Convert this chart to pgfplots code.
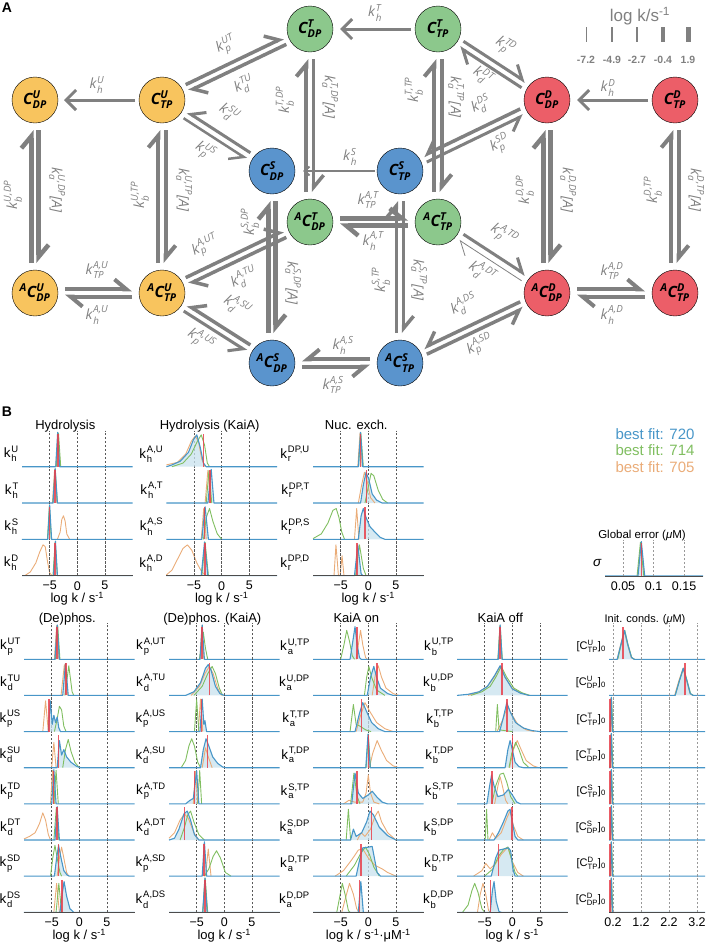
\documentclass[border=0pt]{standalone}
\usepackage{pgfplots}
\pgfplotsset{compat=1.18}
\usepackage{fontspec}
\usepackage{amsmath}
\setmainfont{Liberation Sans}
\newfontfamily\osans{Open Sans}
\usetikzlibrary{arrows.meta,calc}
\definecolor{ycol}{RGB}{248,196,94}
\definecolor{gcol}{RGB}{140,200,140}
\definecolor{bcol}{RGB}{90,148,205}
\definecolor{rcol}{RGB}{236,94,104}
\definecolor{agray}{RGB}{128,128,128}
\definecolor{cb}{RGB}{72,150,200}
\definecolor{cg}{RGB}{128,190,96}
\definecolor{co}{RGB}{234,172,120}
\definecolor{cr}{RGB}{232,64,76}
\definecolor{cbf}{RGB}{200,226,238}
\tikzset{arr/.style={draw=agray, line cap=butt},
 alab/.style={font=\osans\itshape\fontsize{14}{14}\selectfont, text=agray, inner sep=0pt},
 nlab/.style={font=\osans\bfseries\itshape\fontsize{15.5}{15.5}\selectfont, inner sep=0pt, text=black},
 rowlab/.style={anchor=east, inner sep=0pt, xshift=-3pt, font=\fontsize{13.5}{14}\selectfont}}
\pgfplotsset{
 panelA/.style={at={(0pt,0pt)}, anchor=north west, scale only axis, width=709pt, height=395pt,
  xmin=0, xmax=709, ymin=0, ymax=395, y dir=reverse, hide axis, clip=false},
 rowax/.style={scale only axis, width=110.6pt, height=36.2pt, anchor=south west,
  xmin=-10, xmax=10, ymin=0, ymax=1, axis y line=none, axis x line=bottom,
  x axis line style={draw=none,-}, xtick={-5,0,5}, xticklabels={}, ytick=\empty,
  xmajorgrids=true, major grid style={black!65, line width=0.6pt, dash pattern=on 2.2pt off 1.8pt},
  tick style={draw=none}, clip=false, every axis title shift=0pt,
  title style={at={(0.5,1)}, anchor=base, yshift=1pt, xshift=-12pt, inner sep=0pt, font=\fontsize{13}{14}\selectfont},
  ticklabel style={font=\fontsize{12.5}{13}\selectfont},
  xlabel style={font=\fontsize{13}{14}\selectfont, inner sep=0pt, yshift=1.5pt}},
 lastrow/.style={x axis line style={draw=black!70, line width=0.9pt,-}, xticklabels={−5,0,5},
  xlabel={log k / s$^{\text{-1}}$}, axis on top},
 initax/.style={width=96pt, xmin=0.057, xmax=3.486, xtick={0.2,1.2,2.2,3.2},
  major grid style={black!40, line width=0.6pt, dash pattern=on 2.2pt off 1.8pt},
  title style={xshift=0pt, font=\fontsize{11}{12}\selectfont}},
 initlast/.style={lastrow, xticklabels={0.2,1.2,2.2,3.2}, xlabel={}},
 oc/.style={color=co, line width=0.9pt, line join=round},
 gc/.style={color=cg, line width=0.9pt, line join=round},
 bc/.style={color=cb, line width=1.1pt, line join=round},
 rc/.style={color=cr, line width=1.5pt, opacity=0.85}
}
% #1 opts, #2 left, #3 baseline, #4 label, #5 orange, #6 green, #7 blue, #8 red x
\newcommand{\R}[8][]{%
\begin{axis}[rowax,#1,at={(#2pt,-#3pt)}]
\addplot[draw=none,fill=cbf,fill opacity=0.75] coordinates {#7};
\addplot[oc] coordinates {#5};
\addplot[gc] coordinates {#6};
\addplot[bc] coordinates {#7};
\addplot[rc] coordinates {(#8,0)(#8,0.9)};
\node[rowlab] at (rel axis cs:0,0.35) {#4};
\end{axis}}
\newcommand{\pairL}[5]{%
\draw[arr, line width=#3pt, shorten <=#5pt, shorten >=#5pt, -{Straight Barb[left, length=12pt, width=20pt]}] ($(#1)!3.6pt!90:(#2)$) -- ($(#2)!3.6pt!-90:(#1)$);
\draw[arr, line width=#4pt, shorten <=#5pt, shorten >=#5pt, -{Straight Barb[left, length=12pt, width=20pt]}] ($(#2)!3.6pt!90:(#1)$) -- ($(#1)!3.6pt!-90:(#2)$);}
\newcommand{\pairR}[5]{%
\draw[arr, line width=#3pt, shorten <=#5pt, shorten >=#5pt, -{Straight Barb[right, length=12pt, width=20pt]}] ($(#1)!3.6pt!-90:(#2)$) -- ($(#2)!3.6pt!90:(#1)$);
\draw[arr, line width=#4pt, shorten <=#5pt, shorten >=#5pt, -{Straight Barb[right, length=12pt, width=20pt]}] ($(#2)!3.6pt!-90:(#1)$) -- ($(#1)!3.6pt!90:(#2)$);}
\newcommand{\sk}[3]{#1\kern0.8pt$^{\text{#2}}_{\text{#3}}$}
\begin{document}
\begin{tikzpicture}
\path[use as bounding box] (0,0) rectangle (709pt,-942pt);
\node[font=\bfseries\fontsize{14}{14}\selectfont] at (7pt,-8pt) {A};
\node[font=\bfseries\fontsize{14}{14}\selectfont] at (7pt,-412pt) {B};
% ---------------- Panel A: arrows and circles
\begin{axis}[panelA]
\coordinate (UDP) at (axis cs:35,100);
\coordinate (UTP) at (axis cs:162,100);
\coordinate (TDP) at (axis cs:310,29);
\coordinate (TTP) at (axis cs:438,29);
\coordinate (SDP) at (axis cs:272,171);
\coordinate (STP) at (axis cs:400,171);
\coordinate (DDP) at (axis cs:547,100);
\coordinate (DTP) at (axis cs:675,100);
\coordinate (aUDP) at (axis cs:35,293);
\coordinate (aUTP) at (axis cs:162,293);
\coordinate (aTDP) at (axis cs:310,222);
\coordinate (aTTP) at (axis cs:438,222);
\coordinate (aSDP) at (axis cs:272,363);
\coordinate (aSTP) at (axis cs:400,363);
\coordinate (aDDP) at (axis cs:547,293);
\coordinate (aDTP) at (axis cs:675,293);
\draw[arr, line width=2pt, -{Straight Barb[length=5pt,width=9pt]}] (axis cs:375,171) -- (axis cs:303,171);
\draw[arr, line width=3pt, -{Straight Barb[length=10pt,width=20pt]}] (axis cs:135,100) -- (axis cs:64,100);
\draw[arr, line width=3pt, -{Straight Barb[length=10pt,width=20pt]}] (axis cs:411,29) -- (axis cs:340,29);
\draw[arr, line width=3pt, -{Straight Barb[length=10pt,width=20pt]}] (axis cs:648,100) -- (axis cs:577,100);
\pairL{aUDP}{UDP}{4.5}{4.5}{30}
\pairL{aUTP}{UTP}{4}{4}{30}
\pairL{aTDP}{TDP}{4}{3.5}{30}
\pairL{aSDP}{SDP}{4.5}{4.5}{30}
\pairL{aTTP}{TTP}{4}{4}{30}
\pairL{aSTP}{STP}{3.5}{3.5}{30}
\pairL{aDDP}{DDP}{4.5}{4.5}{30}
\pairL{aDTP}{DTP}{4}{4}{30}
\pairL{aUDP}{aUTP}{4}{4}{30}
\pairL{aTDP}{aTTP}{4.5}{4.5}{30}
\pairR{aSDP}{aSTP}{4}{4}{30}
\pairL{aDDP}{aDTP}{4}{4}{30}
\pairL{UTP}{TDP}{3.5}{3.5}{28}
\pairR{UTP}{SDP}{2.5}{3}{28}
\pairL{TTP}{DDP}{3}{3}{28}
\pairR{STP}{DDP}{3}{3.5}{28}
\pairL{aUTP}{aTDP}{3.5}{3.5}{28}
\pairR{aUTP}{aSDP}{3}{3.5}{28}
\pairL{aTTP}{aDDP}{3}{0.8}{28}
\pairR{aSTP}{aDDP}{3.5}{3.5}{28}
\addplot[only marks, mark=*, mark size=23pt, mark options={draw=none,fill=ycol}] coordinates {(35,100)(162,100)(35,293)(162,293)};
\addplot[only marks, mark=*, mark size=23pt, mark options={draw=none,fill=gcol}] coordinates {(310,29)(438,29)(310,222)(438,222)};
\addplot[only marks, mark=*, mark size=23pt, mark options={draw=none,fill=bcol}] coordinates {(272,171)(400,171)(272,363)(400,363)};
\addplot[only marks, mark=*, mark size=23pt, mark options={draw=none,fill=rcol}] coordinates {(547,100)(675,100)(547,293)(675,293)};
\end{axis}
% ---------------- Panel A: texts (separate overlay so they sit on top of the circles)
\begin{axis}[panelA]
\node[nlab] at (axis cs:35,100) {C$^{\text{U}}_{\text{DP}}$};
\node[nlab] at (axis cs:162,100) {C$^{\text{U}}_{\text{TP}}$};
\node[nlab] at (axis cs:310,29) {C$^{\text{T}}_{\text{DP}}$};
\node[nlab] at (axis cs:438,29) {C$^{\text{T}}_{\text{TP}}$};
\node[nlab] at (axis cs:272,171) {C$^{\text{S}}_{\text{DP}}$};
\node[nlab] at (axis cs:400,171) {C$^{\text{S}}_{\text{TP}}$};
\node[nlab] at (axis cs:547,100) {C$^{\text{D}}_{\text{DP}}$};
\node[nlab] at (axis cs:675,100) {C$^{\text{D}}_{\text{TP}}$};
\node[nlab] at (axis cs:35,293) {$^{\text{A}}$C$^{\text{U}}_{\text{DP}}$};
\node[nlab] at (axis cs:162,293) {$^{\text{A}}$C$^{\text{U}}_{\text{TP}}$};
\node[nlab] at (axis cs:310,222) {$^{\text{A}}$C$^{\text{T}}_{\text{DP}}$};
\node[nlab] at (axis cs:438,222) {$^{\text{A}}$C$^{\text{T}}_{\text{TP}}$};
\node[nlab] at (axis cs:272,363) {$^{\text{A}}$C$^{\text{S}}_{\text{DP}}$};
\node[nlab] at (axis cs:400,363) {$^{\text{A}}$C$^{\text{S}}_{\text{TP}}$};
\node[nlab] at (axis cs:547,293) {$^{\text{A}}$C$^{\text{D}}_{\text{DP}}$};
\node[nlab] at (axis cs:675,293) {$^{\text{A}}$C$^{\text{D}}_{\text{TP}}$};
\node[alab] at (axis cs:97,85) {\sk{k}{U}{h}};
\node[alab] at (axis cs:375,13) {\sk{k}{T}{h}};
\node[alab] at (axis cs:608,88) {\sk{k}{D}{h}};
\node[alab] at (axis cs:350,157) {\sk{k}{S}{h}};
\node[alab,rotate=25.5] at (axis cs:226,45) {\sk{k}{UT}{p}};
\node[alab,rotate=25.5] at (axis cs:244,85) {\sk{k}{TU}{d}};
\node[alab,rotate=-33] at (axis cs:229,113) {\sk{k}{SU}{d}};
\node[alab,rotate=-33] at (axis cs:205,151) {\sk{k}{US}{p}};
\node[alab,rotate=-33] at (axis cs:505,46) {\sk{k}{TD}{p}};
\node[alab,rotate=-33] at (axis cs:483,76) {\sk{k}{DT}{d}};
\node[alab,rotate=26] at (axis cs:481,105) {\sk{k}{DS}{d}};
\node[alab,rotate=26] at (axis cs:500,144) {\sk{k}{SD}{p}};
\node[alab,rotate=90] at (axis cs:13,195) {\sk{k}{U,DP}{b}};
\node[alab,rotate=-90] at (axis cs:57,190) {\sk{k}{U,DP}{a}[A]};
\node[alab,rotate=90] at (axis cs:140,195) {\sk{k}{U,TP}{b}};
\node[alab,rotate=-90] at (axis cs:184,190) {\sk{k}{U,TP}{a}[A]};
\node[alab,rotate=90] at (axis cs:285,100) {\sk{k}{T,DP}{b}};
\node[alab,rotate=-90] at (axis cs:330,97) {\sk{k}{T,DP}{a}[A]};
\node[alab,rotate=90] at (axis cs:414,90) {\sk{k}{T,TP}{b}};
\node[alab,rotate=-90] at (axis cs:456,97) {\sk{k}{T,TP}{a}[A]};
\node[alab,rotate=90] at (axis cs:250,222) {\sk{k}{S,DP}{b}};
\node[alab,rotate=-90] at (axis cs:293,283) {\sk{k}{S,DP}{a}[A]};
\node[alab,rotate=90] at (axis cs:381,280) {\sk{k}{S,TP}{b}};
\node[alab,rotate=-90] at (axis cs:419,280) {\sk{k}{S,TP}{a}[A]};
\node[alab,rotate=90] at (axis cs:525,190) {\sk{k}{D,DP}{b}};
\node[alab,rotate=-90] at (axis cs:568,190) {\sk{k}{D,DP}{a}[A]};
\node[alab,rotate=90] at (axis cs:653,190) {\sk{k}{D,TP}{b}};
\node[alab,rotate=-90] at (axis cs:696,190) {\sk{k}{D,TP}{a}[A]};
\node[alab] at (axis cs:97,270) {\sk{k}{A,U}{TP}};
\node[alab] at (axis cs:97,315) {\sk{k}{A,U}{h}};
\node[alab] at (axis cs:368,200) {\sk{k}{A,T}{TP}};
\node[alab] at (axis cs:373,241) {\sk{k}{A,T}{h}};
\node[alab] at (axis cs:343,345) {\sk{k}{A,S}{h}};
\node[alab] at (axis cs:333,385) {\sk{k}{A,S}{TP}};
\node[alab] at (axis cs:612,271) {\sk{k}{A,D}{TP}};
\node[alab] at (axis cs:612,315) {\sk{k}{A,D}{h}};
\node[alab,rotate=25.5] at (axis cs:205,246) {\sk{k}{A,UT}{p}};
\node[alab,rotate=25.5] at (axis cs:244,278) {\sk{k}{A,TU}{d}};
\node[alab,rotate=-33] at (axis cs:237,306) {\sk{k}{A,SU}{d}};
\node[alab,rotate=-33] at (axis cs:201,340) {\sk{k}{A,US}{p}};
\node[alab,rotate=-33] at (axis cs:504,235) {\sk{k}{A,TD}{p}};
\node[alab,rotate=-33] at (axis cs:482,272) {\sk{k}{A,DT}{d}};
\node[alab,rotate=26] at (axis cs:464,305) {\sk{k}{A,DS}{d}};
\node[alab,rotate=26] at (axis cs:480,345) {\sk{k}{A,SD}{p}};
\node[font=\fontsize{17}{17}\selectfont, text=agray] at (axis cs:640,16) {log k/s$^{\text{-1}}$};
\draw[agray, line width=0.8pt] (axis cs:586,27) -- (axis cs:586,42);
\draw[agray, line width=1.8pt] (axis cs:612,27) -- (axis cs:612,42);
\draw[agray, line width=2.8pt] (axis cs:637,27) -- (axis cs:637,42);
\draw[agray, line width=3.8pt] (axis cs:663,27) -- (axis cs:663,42);
\draw[agray, line width=5pt] (axis cs:688,27) -- (axis cs:688,42);
\node[font=\bfseries\fontsize{10.5}{11}\selectfont, text=agray] at (axis cs:586,60) {-7.2};
\node[font=\bfseries\fontsize{10.5}{11}\selectfont, text=agray] at (axis cs:612,60) {-4.9};
\node[font=\bfseries\fontsize{10.5}{11}\selectfont, text=agray] at (axis cs:637,60) {-2.7};
\node[font=\bfseries\fontsize{10.5}{11}\selectfont, text=agray] at (axis cs:663,60) {-0.4};
\node[font=\bfseries\fontsize{10.5}{11}\selectfont, text=agray] at (axis cs:688,60) {1.9};
\end{axis}
% ---------------- Panel B: Hydrolysis
\R[title={Hydrolysis}]{22}{466.7}{\sk{k}{U}{h}}
{(-3.9,0)(-3.5,0.93)(-3.1,0)}
{(-3.8,0)(-3.4,0.93)(-3.0,0)}
{(-10,0)(-3.9,0)(-3.55,0.95)(-3.2,0)(10,0)}{-3.5}
\R{22}{503.0}{\sk{k}{T}{h}}
{(-4.5,0)(-4.1,0.93)(-3.7,0)}
{(-4.4,0)(-4.0,0.93)(-3.6,0)}
{(-10,0)(-4.4,0)(-4.0,0.95)(-3.6,0)(10,0)}{-4.0}
\R{22}{539.3}{\sk{k}{S}{h}}
{(-3.6,0)(-3.1,0.2)(-2.8,0.55)(-2.5,0.65)(-2.2,0.5)(-1.9,0.15)(-1.4,0)}
{(-5.4,0)(-5.05,0.93)(-4.7,0)}
{(-10,0)(-5.35,0)(-5.0,0.95)(-4.65,0)(10,0)}{-5.0}
\R[lastrow]{22}{575.6}{\sk{k}{D}{h}}
{(-9.5,0)(-8.5,0.1)(-7.5,0.35)(-6.8,0.65)(-6.2,0.85)(-5.8,0.8)(-5.4,0.4)(-5.0,0.08)(-4.6,0)}
{(-4.4,0)(-4.0,0.93)(-3.6,0)}
{(-10,0)(-4.3,0)(-3.95,0.95)(-3.6,0)(10,0)}{-4.0}
% Hydrolysis (KaiA)
\R[title={Hydrolysis (KaiA)}]{166.4}{466.7}{\sk{k}{A,U}{h}}
{(-10,0.05)(-8,0.12)(-6.5,0.35)(-5.5,0.7)(-4.8,0.85)(-4.2,0.7)(-3.6,0.2)(-3.0,0)}
{(-9,0)(-7,0.1)(-5.5,0.35)(-4.4,0.7)(-3.7,0.88)(-3.1,0.6)(-2.6,0.1)(-2.2,0)}
{(-10,0)(-9,0.05)(-7.5,0.15)(-6,0.4)(-5.1,0.75)(-4.5,0.88)(-3.9,0.55)(-3.3,0.1)(-2.8,0)(10,0)}{-3.3}
\R{166.4}{503.0}{\sk{k}{A,T}{h}}
{(-3.0,0)(-2.5,0.9)(-2.0,0)}
{(-2.8,0)(-2.3,0.9)(-1.8,0)}
{(-10,0)(-2.5,0)(-1.9,0.93)(-1.4,0)(10,0)}{-2.1}
\R{166.4}{539.3}{\sk{k}{A,S}{h}}
{(-3.7,0)(-3.25,0.85)(-2.8,0)}
{(-3.3,0)(-2.8,0.6)(-2.2,0.85)(-1.6,0.5)(-0.8,0.15)(0,0)}
{(-10,0)(-3.6,0)(-3.0,0.9)(-2.4,0)(10,0)}{-3.1}
\R[lastrow]{166.4}{575.6}{\sk{k}{A,D}{h}}
{(-10,0.02)(-9,0.15)(-8,0.45)(-7,0.75)(-6.2,0.85)(-5.4,0.7)(-4.5,0.35)(-3.6,0.1)(-2.8,0)}
{(-3.6,0)(-3.0,0.92)(-2.4,0)}
{(-10,0)(-3.7,0)(-3.1,0.93)(-2.5,0)(10,0)}{-3.0}
% Nuc. exch.
\R[title={Nuc. exch.}]{313}{466.7}{\sk{k}{DP,U}{r}}
{(-1.9,0)(-1.5,0.93)(-1.1,0)}
{(-1.8,0)(-1.35,0.93)(-0.9,0)}
{(-10,0)(-1.8,0)(-1.4,0.95)(-1.0,0)(10,0)}{-1.4}
\R{313}{503.0}{\sk{k}{DP,T}{r}}
{(-1.8,0)(-1.2,0.5)(-0.7,0.85)(-0.2,0.6)(0.4,0.15)(1.2,0)}
{(-0.6,0)(0,0.45)(0.5,0.82)(1.0,0.75)(1.8,0.35)(2.6,0.1)(3.5,0)}
{(-10,0)(-1.4,0)(-0.9,0.5)(-0.4,0.85)(0.1,0.65)(0.7,0.25)(1.5,0.08)(2.5,0)(10,0)}{-0.3}
\R{313}{539.3}{\sk{k}{DP,S}{r}}
{(-2.5,0)(-2.1,0.85)(-1.7,0)}
{(-10,0.02)(-8.5,0.15)(-7.3,0.45)(-6.4,0.8)(-5.8,0.85)(-5.3,0.6)(-4.8,0.2)(-4.3,0)}
{(-10,0)(-1.8,0)(-1.3,0.65)(-0.9,0.85)(-0.4,0.6)(0.3,0.35)(1.2,0.2)(2.2,0.05)(3,0)(10,0)}{-0.6}
\R[lastrow]{313}{575.6}{\sk{k}{DP,D}{r}}
{(-6.2,0)(-5.85,0.85)(-5.4,0)(-5.1,0)(-4.75,0.55)(-4.4,0)}
{(-2.3,0)(-1.6,0.85)(-0.9,0.2)(-0.4,0)}
{(-10,0)(-2.5,0)(-1.9,0.85)(-1.3,0.05)(-1.0,0)(10,0)}{-2.0}
% Global error
\R[lastrow, width=98pt, xmin=0.0205, xmax=0.181, xtick={0.05,0.1,0.15}, xticklabels={0.05,0.1,0.15}, xlabel={},
  major grid style={black!40, line width=0.6pt, dash pattern=on 2.2pt off 1.8pt},
  title={Global error (\textit{μ}M)}, title style={xshift=0pt, font=\fontsize{11.5}{12}\selectfont}]{605}{576}{\textit{σ}}
{(0.074,0)(0.0795,0.93)(0.085,0)}
{(0.073,0)(0.0785,0.93)(0.084,0)}
{(0.0205,0)(0.0745,0)(0.080,0.95)(0.0855,0)(0.181,0)}{0.0805}
\node[anchor=east, font=\fontsize{15}{15}\selectfont, text=cb] at (698pt,-434pt) {best fit: 720};
\node[anchor=east, font=\fontsize{15}{15}\selectfont, text=cg] at (698pt,-450pt) {best fit: 714};
\node[anchor=east, font=\fontsize{15}{15}\selectfont, text=co] at (698pt,-467pt) {best fit: 705};
% ---------------- (De)phos.
\R[title={(De)phos.}]{24}{659.3}{\sk{k}{UT}{p}}
{(-4.5,0)(-4.1,0.93)(-3.7,0)}
{(-4.3,0)(-3.9,0.93)(-3.5,0)}
{(-10,0)(-4.4,0)(-4.0,0.95)(-3.6,0)(10,0)}{-4.0}
\R{24}{695.4}{\sk{k}{TU}{d}}
{(-3.3,0)(-2.7,0.85)(-2.1,0)}
{(-2.6,0)(-1.9,0.82)(-1.3,0.1)(-1.0,0)}
{(-10,0)(-3.0,0)(-2.5,0.88)(-2.0,0)(10,0)}{-2.4}
\R{24}{731.6}{\sk{k}{US}{p}}
{(-6.6,0)(-6.1,0.85)(-5.6,0)}
{(-4.5,0)(-4.0,0.35)(-3.6,0.7)(-3.2,0.6)(-2.8,0.15)(-2.4,0)}
{(-10,0)(-5.6,0)(-5.25,0.85)(-4.9,0.2)(-4.6,0.45)(-4.3,0.25)(-4.0,0.4)(-3.7,0.1)(-3.4,0)(10,0)}{-5.5}
\R{24}{767.7}{\sk{k}{SU}{d}}
{(-5.0,0)(-4.6,0.7)(-4.2,0)}
{(-3.0,0)(-2.5,0.5)(-2.0,0.78)(-1.5,0.45)(-0.8,0.15)(0,0)}
{(-10,0)(-4.0,0)(-3.6,0.75)(-3.2,0.35)(-2.8,0.5)(-2.3,0.3)(-1.5,0.15)(-0.5,0.04)(0.2,0)(10,0)}{-3.8}
\R{24}{803.9}{\sk{k}{TD}{p}}
{(-5.2,0)(-4.85,0.93)(-4.5,0)}
{(-4.6,0)(-4.2,0.93)(-3.8,0)}
{(-10,0)(-5.0,0)(-4.6,0.95)(-4.2,0)(10,0)}{-4.7}
\R{24}{840.0}{\sk{k}{DT}{d}}
{(-10,0.03)(-9,0.1)(-8,0.2)(-7.2,0.45)(-6.6,0.75)(-6.1,0.55)(-5.6,0.15)(-5.2,0)}
{(-4.6,0)(-4.15,0.9)(-3.7,0)}
{(-10,0)(-4.4,0)(-4.0,0.92)(-3.6,0)(10,0)}{-4.0}
\R{24}{876.1}{\sk{k}{SD}{p}}
{(-4.0,0)(-3.6,0.5)(-3.2,0.8)(-2.8,0.5)(-2.3,0.1)(-1.9,0)}
{(-5.2,0)(-4.8,0.5)(-4.4,0.85)(-4.0,0.5)(-3.5,0.1)(-3.2,0)}
{(-10,0)(-4.5,0)(-4.1,0.5)(-3.75,0.85)(-3.3,0.5)(-2.8,0.15)(-2.2,0.03)(-1.8,0)(10,0)}{-3.8}
\R[lastrow]{24}{912.3}{\sk{k}{DS}{d}}
{(-4.6,0)(-4.1,0.8)(-3.6,0)}
{(-4.2,0)(-3.7,0.8)(-3.2,0)}
{(-10,0)(-3.5,0)(-3.1,0.5)(-2.75,0.85)(-2.3,0.45)(-1.7,0.1)(-1.0,0)(10,0)}{-3.1}
% (De)phos. (KaiA)
\R[title={(De)phos. (KaiA)}]{169}{659.3}{\sk{k}{A,UT}{p}}
{(-4.4,0)(-4.05,0.93)(-3.7,0)}
{(-4.5,0)(-4.1,0.4)(-3.8,0.75)(-3.4,0.3)(-3.0,0)}
{(-10,0)(-4.4,0)(-4.0,0.95)(-3.6,0)(10,0)}{-4.0}
\R{169}{695.4}{\sk{k}{A,TU}{d}}
{(-6,0)(-4.5,0.25)(-3.5,0.6)(-2.7,0.8)(-2.0,0.6)(-1.2,0.2)(-0.5,0)}
{(-5.5,0)(-4,0.25)(-3.0,0.6)(-2.2,0.8)(-1.6,0.6)(-0.9,0.2)(-0.3,0)}
{(-10,0)(-7,0)(-5.5,0.1)(-4.3,0.35)(-3.4,0.75)(-2.9,0.85)(-2.4,0.7)(-1.6,0.25)(-0.8,0.05)(0,0)(10,0)}{-2.7}
\R{169}{731.6}{\sk{k}{A,US}{p}}
{(-4.7,0)(-4.3,0.9)(-3.9,0)}
{(-5.4,0)(-5.0,0.88)(-4.6,0)}
{(-10,0)(-4.4,0)(-4.0,0.9)(-3.7,0.2)(-3.5,0.3)(-3.2,0)(10,0)}{-4.1}
\R{169}{767.7}{\sk{k}{A,SU}{d}}
{(-4.0,0)(-3.4,0.55)(-2.9,0.3)(-2.2,0)}
{(-7.8,0)(-7.0,0.2)(-6.4,0.6)(-5.9,0.8)(-5.4,0.6)(-4.8,0.15)(-4.3,0)}
{(-10,0)(-4.3,0)(-3.8,0.5)(-3.3,0.8)(-2.8,0.6)(-2.1,0.3)(-1.2,0.12)(-0.3,0.02)(0.3,0)(10,0)}{-3.0}
\R{169}{803.9}{\sk{k}{A,TD}{p}}
{(-5.6,0)(-5.2,0.9)(-4.8,0)}
{(-4.8,0)(-4.45,0.92)(-4.1,0)}
{(-10,0)(-7,0)(-6.2,0.1)(-5.6,0.15)(-5.0,0.92)(-4.6,0)(10,0)}{-5.4}
\R{169}{840.0}{\sk{k}{A,DT}{d}}
{(-10,0.05)(-9,0.2)(-8,0.55)(-7.2,0.72)(-6.5,0.6)(-5.5,0.2)(-4.6,0)}
{(-8,0)(-7.2,0.35)(-6.6,0.7)(-6.1,0.8)(-5.5,0.5)(-4.6,0.15)(-3.6,0)}
{(-10,0)(-9,0.05)(-8.2,0.3)(-7.3,0.72)(-6.7,0.8)(-6.1,0.55)(-5.4,0.15)(-4.6,0)(10,0)}{-7.2}
\R{169}{876.1}{\sk{k}{A,SD}{p}}
{(-3.4,0)(-2.9,0.75)(-2.4,0)}
{(-3.6,0)(-2.8,0.2)(-2.0,0.55)(-1.4,0.7)(-0.7,0.5)(0.2,0.1)(1.2,0)}
{(-10,0)(-4.0,0)(-3.6,0.95)(-3.2,0)(10,0)}{-3.7}
\R[lastrow]{169}{912.3}{\sk{k}{A,DS}{d}}
{(-3.9,0)(-3.5,0.93)(-3.1,0)}
{(-3.9,0)(-3.45,0.93)(-3.0,0)}
{(-10,0)(-3.9,0)(-3.5,0.95)(-3.1,0)(10,0)}{-3.5}
% KaiA on
\R[title={KaiA on}]{313}{659.3}{\sk{k}{U,TP}{a}}
{(-2.2,0)(-1.8,0.4)(-1.4,0.8)(-1.0,0.4)(-0.5,0.05)(-0.2,0)}
{(-5,0)(-4.4,0.4)(-3.9,0.8)(-3.4,0.5)(-2.9,0.1)(-2.5,0)}
{(-10,0)(-3.3,0)(-2.8,0.5)(-2.4,0.9)(-2.0,0.4)(-1.6,0.05)(-1.3,0)(10,0)}{-2.0}
\R{313}{695.4}{\sk{k}{U,DP}{a}}
{(0.7,0)(1.3,0.6)(1.8,0.82)(2.4,0.5)(3.2,0.2)(4.5,0.05)(5.5,0)}
{(-0.7,0)(-0.3,0.5)(0.1,0.8)(0.6,0.5)(1.5,0.15)(3,0)}
{(-10,0)(-0.2,0)(0.4,0.5)(1.0,0.8)(1.5,0.5)(2.2,0.2)(3.5,0.05)(4.5,0)(10,0)}{1.6}
\R{313}{731.6}{\sk{k}{T,TP}{a}}
{(-2.2,0)(-1.5,0.4)(-0.6,0.8)(0.3,0.55)(1.5,0.25)(3,0.08)(4.5,0)}
{(-3.3,0)(-2.7,0.75)(-2.2,0.2)(-1.5,0.15)(-0.5,0.05)(0.5,0)}
{(-10,0)(-2.4,0)(-1.6,0.5)(-1.0,0.8)(-0.3,0.55)(0.6,0.25)(1.8,0.08)(3,0)(10,0)}{-1.2}
\R{313}{767.7}{\sk{k}{T,DP}{a}}
{(0.2,0)(0.8,0.4)(1.6,0.75)(2.3,0.5)(3.3,0.2)(4.5,0.05)(5.5,0)}
{(-0.4,0)(0,0.9)(0.4,0)}
{(-10,0)(-0.45,0)(-0.05,0.93)(0.35,0)(10,0)}{0.0}
\R{313}{803.9}{\sk{k}{S,TP}{a}}
{(-4.5,0)(-3.5,0.1)(-2.5,0.05)(-1,0.05)(-0.4,0.3)(0,0.8)(0.4,0.3)(1,0.05)(2,0)}
{(-3.2,0)(-2.6,0.85)(-2.0,0.2)(-1.5,0)}
{(-10,0)(-3.0,0)(-2.4,0.85)(-1.8,0.3)(-1.0,0.15)(0,0.25)(0.7,0.35)(1.5,0.2)(2.5,0.05)(3.5,0)(10,0)}{-2.0}
\R{313}{840.0}{\sk{k}{S,DP}{a}}
{(-2,0)(-1.3,0.2)(-0.6,0.1)(0.4,0.3)(1.2,0.65)(1.8,0.8)(2.4,0.5)(3.5,0.2)(5,0)}
{(-4.0,0)(-3.6,0.85)(-3.2,0)}
{(-10,0)(-3.2,0)(-2.7,0.3)(-2.2,0.1)(-1.2,0.2)(-0.3,0.5)(0.3,0.8)(0.9,0.7)(2,0.35)(3.5,0.12)(5,0)(10,0)}{0.6}
\R{313}{876.1}{\sk{k}{D,TP}{a}}
{(-6,0)(-4.5,0.15)(-3,0.45)(-1.8,0.72)(-1.0,0.75)(0,0.5)(1.2,0.3)(2.5,0.2)(3.5,0.1)(5,0)}
{(-4,0)(-2.5,0.3)(-1.3,0.65)(-0.5,0.8)(0.2,0.6)(1.0,0.25)(2,0)}
{(-10,0)(-2.2,0)(-1.5,0.5)(-1.0,0.78)(0,0.8)(0.7,0.82)(1.1,0.5)(1.6,0.1)(2.2,0)(10,0)}{-1.3}
\R[lastrow, xlabel={log k / s$^{\text{-1}}$·μM$^{\text{-1}}$}]{313}{912.3}{\sk{k}{D,DP}{a}}
{(-4.8,0)(-4.2,0.35)(-3.4,0.8)(-2.7,0.5)(-2.1,0.1)(-1.7,0)}
{(-5.7,0)(-5.2,0.4)(-4.7,0.8)(-4.2,0.5)(-3.6,0.05)(-3.3,0)}
{(-10,0)(-1.8,0)(-1.35,0.85)(-0.9,0)(10,0)}{-1.6}
% KaiA off
\R[title={KaiA off}]{457}{659.3}{\sk{k}{U,TP}{b}}
{(-2.6,0)(-2.25,0.93)(-1.9,0)}
{(-2.6,0)(-2.2,0.93)(-1.8,0)}
{(-10,0)(-2.55,0)(-2.2,0.95)(-1.85,0)(10,0)}{-2.2}
\R{457}{695.4}{\sk{k}{U,DP}{b}}
{(-8,0)(-6,0.1)(-4.5,0.25)(-3.3,0.5)(-2.2,0.8)(-1.3,0.5)(0,0.2)(1.5,0.07)(3,0)}
{(-7.5,0)(-5.5,0.1)(-4,0.25)(-3,0.5)(-2.0,0.8)(-1.0,0.5)(0.3,0.2)(1.8,0.07)(3.2,0)}
{(-10,0)(-8,0.03)(-6,0.1)(-4.5,0.25)(-3.2,0.55)(-2.2,0.82)(-1.3,0.5)(0,0.18)(1.5,0.06)(3,0)(10,0)}{-1.9}
\R{457}{731.6}{\sk{k}{T,TP}{b}}
{(-2.8,0)(-1.8,0.3)(-1.2,0.55)(-0.8,0.7)(-0.2,0.5)(1,0.2)(2.5,0.05)(4,0)}
{(-3.0,0)(-2.7,0.75)(-2.4,0.05)(-1,0.02)(0,0)}
{(-10,0)(-2.3,0)(-1.6,0.4)(-1.0,0.8)(-0.4,0.55)(0.6,0.25)(2,0.1)(3.5,0.03)(5,0)(10,0)}{-1.0}
\R{457}{767.7}{\sk{k}{T,DP}{b}}
{(-0.5,0)(0.2,0.5)(0.9,0.75)(1.6,0.5)(2.5,0.2)(3.8,0.05)(4.8,0)}
{(-0.6,0)(-0.1,0.4)(0.6,0.7)(1.2,0.5)(2,0.15)(3,0)}
{(-10,0)(-1.3,0)(-0.8,0.5)(-0.4,0.75)(0,0.5)(0.5,0.15)(1.2,0.03)(2,0)(10,0)}{0.0}
\R{457}{803.9}{\sk{k}{S,TP}{b}}
{(-3.2,0)(-2.6,0.5)(-2.2,0.75)(-1.8,0.5)(-1.2,0.1)(-0.8,0)}
{(-3.7,0)(-3.0,0.5)(-2.2,0.82)(-1.6,0.85)(-1.0,0.6)(-0.3,0.2)(0.5,0)}
{(-10,0)(-4.6,0)(-4.1,0.5)(-3.75,0.8)(-3.3,0.5)(-2.6,0.2)(-1.6,0.25)(-0.7,0.4)(0,0.25)(0.8,0.05)(1.5,0)(10,0)}{-3.7}
\R{457}{840.0}{\sk{k}{S,DP}{b}}
{(-4.2,0)(-3.6,0.2)(-3.0,0.05)(-2,0.2)(-1.0,0.6)(-0.4,0.8)(0.2,0.4)(1,0.1)(2,0)}
{(-4.9,0)(-4.65,0.85)(-4.4,0)}
{(-10,0)(-3.3,0)(-2.5,0.2)(-1.6,0.5)(-0.8,0.8)(-0.4,0.85)(0,0.5)(0.5,0.1)(1,0)(10,0)}{-0.1}
\R{457}{876.1}{\sk{k}{D,TP}{b}}
{(-7,0)(-5.5,0.15)(-4.8,0.35)(-4.0,0.2)(-3,0.35)(-2,0.6)(-0.8,0.8)(0,0.4)(1,0.1)(2,0)}
{(-5,0)(-3.5,0.2)(-2.5,0.55)(-1.5,0.75)(-0.8,0.8)(-0.2,0.5)(0.5,0.1)(1,0)}
{(-10,0)(-3.8,0)(-3.0,0.5)(-2.4,0.72)(-1.5,0.75)(-0.7,0.78)(-0.3,0.7)(0.1,0.2)(0.5,0)(10,0)}{-2.5}
\R[lastrow]{457}{912.3}{\sk{k}{D,DP}{b}}
{(-6.3,0)(-5.8,0.5)(-5.3,0.8)(-4.8,0.5)(-4.3,0.05)(-4,0)}
{(-9,0)(-8,0.2)(-7.3,0.6)(-6.8,0.8)(-6.2,0.55)(-5.5,0.1)(-5,0)}
{(-10,0)(-4.0,0)(-3.6,0.6)(-3.3,0.85)(-2.9,0.3)(-2.4,0.02)(-2,0)(10,0)}{-3.9}
% Init. conds.
\R[initax, title={Init. conds. (\textit{μ}M)}]{609}{659.3}{{\fontsize{11}{12}\selectfont [C$^{\text{U}}_{\text{TP}}$]$_{\text{0}}$}}
{(0.35,0)(0.47,0.4)(0.6,0.78)(0.72,0.4)(0.85,0.05)(0.95,0)}
{(0.37,0)(0.49,0.4)(0.62,0.8)(0.74,0.4)(0.87,0.05)(0.97,0)}
{(0.057,0)(0.35,0)(0.48,0.4)(0.61,0.8)(0.73,0.4)(0.86,0.05)(0.96,0)(3.486,0)}{0.55}
\R[initax]{609}{695.4}{{\fontsize{11}{12}\selectfont [C$^{\text{U}}_{\text{DP}}$]$_{\text{0}}$}}
{(2.4,0)(2.55,0.4)(2.7,0.75)(2.83,0.4)(2.95,0.05)(3.05,0)}
{(2.42,0)(2.57,0.4)(2.72,0.75)(2.85,0.4)(2.97,0.05)(3.07,0)}
{(0.057,0)(2.42,0)(2.57,0.4)(2.71,0.75)(2.84,0.4)(2.96,0.05)(3.06,0)(3.486,0)}{2.77}
\R[initax]{609}{731.6}{{\fontsize{11}{12}\selectfont [C$^{\text{T}}_{\text{TP}}$]$_{\text{0}}$}}
{(0.08,0)(0.12,0.93)(0.16,0)}
{(0.1,0)(0.15,0.93)(0.2,0)}
{(0.057,0)(0.1,0)(0.14,0.95)(0.18,0)(3.486,0)}{0.09}
\R[initax]{609}{767.7}{{\fontsize{11}{12}\selectfont [C$^{\text{T}}_{\text{DP}}$]$_{\text{0}}$}}
{(0.08,0)(0.12,0.93)(0.16,0)}
{(0.1,0)(0.15,0.93)(0.2,0)}
{(0.057,0)(0.1,0)(0.14,0.95)(0.18,0)(3.486,0)}{0.09}
\R[initax]{609}{803.9}{{\fontsize{11}{12}\selectfont [C$^{\text{S}}_{\text{TP}}$]$_{\text{0}}$}}
{(0.08,0)(0.12,0.93)(0.16,0)}
{(0.1,0)(0.15,0.93)(0.2,0)}
{(0.057,0)(0.1,0)(0.14,0.95)(0.18,0)(3.486,0)}{0.09}
\R[initax]{609}{840.0}{{\fontsize{11}{12}\selectfont [C$^{\text{S}}_{\text{DP}}$]$_{\text{0}}$}}
{(0.08,0)(0.12,0.93)(0.16,0)}
{(0.1,0)(0.15,0.93)(0.2,0)}
{(0.057,0)(0.1,0)(0.14,0.95)(0.18,0)(3.486,0)}{0.09}
\R[initax]{609}{876.1}{{\fontsize{11}{12}\selectfont [C$^{\text{D}}_{\text{TP}}$]$_{\text{0}}$}}
{(0.08,0)(0.12,0.93)(0.16,0)}
{(0.1,0)(0.15,0.93)(0.2,0)}
{(0.057,0)(0.1,0)(0.14,0.95)(0.18,0)(3.486,0)}{0.09}
\R[initax, initlast]{609}{912.3}{{\fontsize{11}{12}\selectfont [C$^{\text{D}}_{\text{DP}}$]$_{\text{0}}$}}
{(0.08,0)(0.12,0.93)(0.16,0)}
{(0.1,0)(0.15,0.93)(0.2,0)}
{(0.057,0)(0.1,0)(0.14,0.95)(0.18,0)(3.486,0)}{0.09}
\end{tikzpicture}
\end{document}
